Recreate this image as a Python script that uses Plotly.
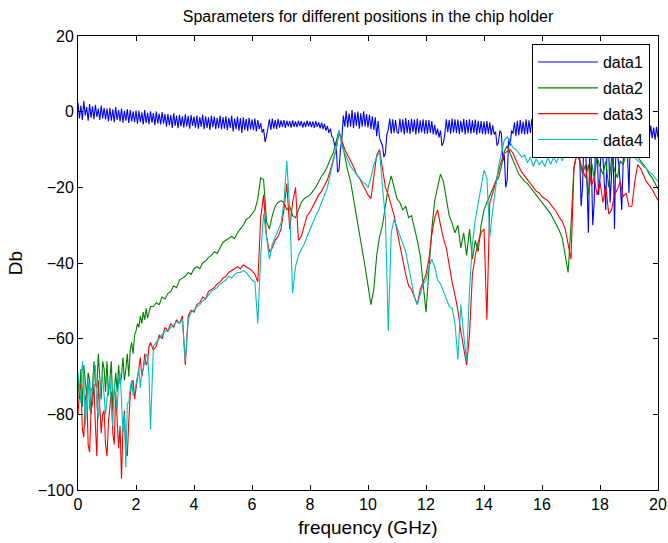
import plotly.graph_objects as go

# frequency axes (GHz)
freq_fine = [round(i * 0.05, 2) for i in range(401)]                       # data1
freq_mixed = [round(i * 0.05, 2) for i in range(51)] + [round(2.5 + i * 0.1, 1) for i in range(1, 176)]  # data2-4

# data1 read at 0.05 GHz steps
data1 = [2.4, -1.8, 1.6, -2.2, 2.8, -1.0, 1.2, -2.4, 2.0, -1.6, 1.4, -2.0, 1.8, -1.4, 0.8, -2.2, 1.6, -1.8, 1.0, -2.0, 0.8,
         -2.6, 1.0, -2.4, 0.6, -2.8, 1.2, -2.2, 0.4, -2.6, 0.8, -2.9, 0.2, -2.4, 0.7, -3.0, 0.4, -2.6, 0.1, -2.8, 0.3,
         -3.2, 0.2, -2.8, -0.2, -3.4, 0.4, -3.0, -0.3, -3.3, 0.1, -2.9, -0.4, -3.6, 0.0, -3.1, -0.5, -3.4, -0.1, -3.2, -0.6,
         -4.0, -0.6, -3.6, -0.9, -4.3, -0.4, -3.8, -1.0, -4.4, -0.8, -3.9, -1.2, -4.2, -0.7, -4.0, -1.1, -4.5, -0.9, -3.8, -1.3,
         -4.2, -1.0, -4.5, -1.4, -4.0, -0.8, -4.6, -1.2, -4.3, -1.5, -4.8, -1.1, -4.1, -1.3, -4.6, -1.6, -4.4, -1.0, -4.7, -1.4,
         -4.5, -1.2, -4.9, -1.6, -4.3, -1.0, -5.2, -1.8, -4.6, -1.3, -5.0, -1.7, -5.6, -1.5, -4.8, -1.9, -5.1, -1.6, -4.7, -2.0,
         -4.9, -1.8, -5.2, -2.2, -4.6, -3.0, -5.5, -4.6, -8.0, -6.5, -4.4, -2.0, -4.8, -1.8, -4.5, -2.2, -4.6, -1.9, -4.2, -2.3,
         -4.0, -2.2, -4.3, -2.4, -3.9, -2.5, -4.2, -2.3, -4.0, -2.6, -4.1, -2.4, -3.8, -2.5, -4.2, -2.7, -4.0, -2.4, -3.9, -2.6,
         -4.1, -2.6, -4.3, -2.5, -4.0, -2.8, -4.4, -2.9, -4.6, -3.2, -5.0, -3.8, -5.6, -4.5, -6.5, -7.0, -9.0, -8.0, -16.0, -15.5,
         -10.0, -7.0, -1.0, -4.0, 0.2, -4.2, -0.5, -4.0, 0.4, -4.4, -0.2, -3.8, 0.0, -4.5, -0.4, -4.0, 0.1, -3.9, -0.6, -4.2,
         -0.8, -4.6, -1.2, -4.8, -1.5, -6.5, -2.5, -7.0, -8.0, -9.0, -12.0, -11.0, -6.0, -4.8, -1.8, -5.8, -2.0, -5.6, -2.2, -5.4,
         -5.8, -1.8, -5.5, -2.0, -6.0, -1.7, -5.6, -2.2, -5.9, -1.9, -5.4, -2.1, -6.0, -1.8, -5.7, -2.3, -5.5, -2.0, -5.8, -2.2,
         -5.9, -2.2, -5.6, -2.5, -6.0, -3.5, -6.2, -4.5, -6.8, -5.0, -9.0, -8.2, -6.0, -2.0, -5.4, -2.2, -5.8, -1.8, -5.5, -2.0,
         -5.6, -2.1, -5.9, -2.4, -5.5, -1.9, -6.0, -2.2, -5.7, -2.0, -5.8, -2.3, -5.6, -2.1, -6.1, -2.4, -5.7, -2.5, -5.9, -2.6,
         -6.0, -2.5, -5.8, -2.8, -6.2, -3.6, -6.0, -5.3, -9.0, -8.0, -5.0, -5.8, -13.0, -11.5, -20.0, -18.0, -7.0, -9.0, -5.0, -5.8,
         -2.8, -6.5, -2.4, -6.2, -2.2, -5.8, -2.6, -6.0, -2.0, -5.9, -2.3, -5.6, -1.9, -5.8, -2.1, -5.5, -1.8, -5.7, -2.2, -5.4,
         -2.0, -5.8, -2.3, -5.6, -1.9, -5.9, -2.2, -5.5, -2.1, -6.0, -2.4, -5.7, -2.0, -5.8, -2.5, -6.1, -2.6, -6.5, -3.0, -6.2,
         -4.2, -4.8, -8.5, -7.0, -6.0, -11.5, -25.0, -19.5, -6.0, -10.0, -18.0, -32.0, -8.0, -13.0, -30.0, -24.0, -6.0, -9.0, -22.0, -17.5,
         -7.0, -12.0, -20.0, -26.0, -6.0, -10.0, -24.0, -15.5, -9.0, -31.0, -8.0, -11.0, -14.0, -19.5, -26.0, -13.0, -7.0, -9.0, -12.0, -21.5,
         -3.8, -8.0, -4.0, -7.8, -4.2, -9.0, -3.6, -7.5, -3.8, -8.2, -3.9, -7.6, -4.0, -7.2, -3.7, -7.0, -4.2, -7.4, -4.0, -6.8]

# data2..data4: 0.05 GHz steps up to 2.5 GHz, then 0.1 GHz steps
data2 = [-70, -76, -68, -78, -67, -72, -75, -69, -71, -80, -74, -66, -72, -73, -64, -70, -76, -66, -68, -74, -66,
         -75, -70, -66, -79, -73, -69, -74, -67, -72, -70, -65, -71, -68, -64, -70, -63, -61, -64, -59, -58,
         -56, -57, -54, -56, -53, -55, -52, -54.5, -53, -51.5,
         -51.5, -50.5, -51, -49, -49.5,
         -48, -47.5, -46, -46.5, -44.5, -44, -43.5, -42.5, -43, -41.5,
         -41, -41.5, -40, -39.5, -38.5, -38, -37, -37.5, -36, -34.5,
         -34, -33.5, -33, -33.5, -32, -31, -30, -28.5, -28, -27,
         -26, -23, -17.5, -18, -29, -31, -27.5, -25, -24, -23.5,
         -24, -26, -25, -27.5, -28, -26, -24, -23, -22.5, -22,
         -21, -20, -18.5, -17, -16, -14.5, -12.5, -11, -8, -5,
         -8, -12, -15.5, -18.5, -23, -27, -31, -36, -41, -46,
         -51, -47, -38, -33, -30, -25, -20, -17, -20, -23,
         -24, -26, -25, -28, -27.5, -30.5, -34, -38, -45, -53,
         -42, -31, -23.5, -20, -16.5, -18.5, -23, -27.5, -29.5, -32,
         -30, -36, -32, -38, -31, -39, -34, -37, -30, -26,
         -24, -22, -20, -18.5, -17.5, -14.5, -10.5, -9, -11, -13,
         -15, -16.5, -17.5, -18.5, -19, -20, -21, -22, -23, -24,
         -25, -26, -27, -28.5, -30, -31.5, -33.5, -38, -42.5, -30,
         -15, -11, -13, -16.5, -14, -22, -13, -17.5, -12, -14.5,
         -16.5, -13, -20, -12, -15.5, -17.5, -13, -14, -11, -12,
         -11, -11.5, -12, -13, -14, -15, -16.5, -17.5, -19, -20.5]

data3 = [-80, -74, -72, -84, -86, -76, -74, -88, -90, -79, -77, -72, -83, -91, -71, -78, -85, -80, -79, -88, -91,
         -82, -77, -74, -85, -88, -74, -80, -89, -83, -97, -84, -79, -90, -91, -82, -75, -72, -71, -76, -73,
         -70, -67, -65, -70, -68, -64, -67, -66, -62, -61,
         -63, -62, -59, -60, -57,
         -58, -56, -57, -55, -56, -54, -67, -54, -52.5, -53,
         -51, -50.5, -49, -49.5, -47.5, -47, -46.5, -45.5, -45, -44,
         -43.5, -42.5, -42, -41.5, -41, -41.5, -40.5, -41, -41.5, -42,
         -43, -45, -28, -22, -33, -37, -36, -34, -33, -31,
         -26, -19, -31, -24, -20, -34, -33, -30, -27.5, -26.5,
         -25, -23.5, -22, -21, -19.5, -18, -15.5, -13, -10, -5.5,
         -8, -10, -11.5, -13, -14.5, -16.5, -17.5, -19, -20.5, -22,
         -23, -17, -11.5, -10, -15, -20, -22, -25, -27.5, -31.5,
         -35.5, -39, -43, -46, -47, -49, -51, -47, -45, -43,
         -39, -32.5, -28, -26, -30, -33.5, -36, -41, -45, -48.5,
         -52.5, -58, -62, -67, -59, -43, -38, -34.5, -32, -31,
         -55, -24, -21.5, -18.5, -16, -13, -11, -10.5, -10, -11,
         -13, -14.5, -16, -17, -18, -19, -20, -21, -21.5, -22.5,
         -23, -23.5, -24.5, -25.5, -26.5, -28, -29, -31, -35, -39,
         -15, -11, -13, -15.5, -17.5, -14, -19.5, -17.5, -22, -18.5,
         -24, -19.5, -27, -26, -22, -20.5, -18.5, -22.5, -21.5, -25,
         -25, -18.5, -14, -15, -17, -18.5, -19.5, -20.5, -22, -23.5]

data4 = [-69, -74, -77, -66, -70, -83, -75, -71, -79, -73, -74, -68, -67, -78, -81, -75, -72, -70, -76, -80, -76,
         -73, -70, -78, -83, -72, -75, -79, -71, -69, -76, -85, -80, -94, -77, -77, -73, -71, -75, -74, -72,
         -70, -68, -73, -69, -68, -66, -64, -65, -70, -84,
         -62, -61, -60, -59, -58,
         -58, -57, -56.5, -55.5, -56, -55, -66, -55, -53, -52.5,
         -51.5, -51, -50, -49.5, -48.5, -47.5, -47, -46.5, -45.5, -45,
         -44.5, -43.5, -44, -43, -42.5, -42.5, -42, -42.5, -43.5, -44.5,
         -45, -56, -38, -27, -33, -39, -35, -33, -31.5, -29.5,
         -24, -13, -26, -48, -41, -38, -36.5, -35, -33, -31,
         -29.5, -27.5, -26, -24, -22, -20, -16.5, -13, -10, -5,
         -9, -11, -13, -14.5, -15.5, -16.5, -17.5, -18.5, -19, -20,
         -17.5, -14, -12, -10.5, -20, -28, -58, -32, -28.5, -30.5,
         -32.5, -35, -37, -41, -45, -49, -51, -48.5, -45.5, -44.5,
         -41, -39, -41, -44.5, -45.5, -47.5, -49.5, -51.5, -52, -56,
         -65.5, -51, -59, -66, -47, -35, -28.5, -24, -20, -15.5,
         -17.5, -33, -26, -20, -14.5, -11, -7.5, -6.7, -8, -9.5,
         -10, -11, -12, -11.5, -13.5, -12, -14.5, -12.5, -14, -13,
         -14.5, -12, -14, -12, -13.5, -11.5, -13, -11, -12, -11,
         -10.5, -11, -10, -10.5, -9.5, -11, -10, -9.5, -10.5, -10,
         -9.5, -10, -9, -10.5, -9.5, -10, -9, -10, -10.5, -11,
         -11.5, -12, -13, -13.5, -14.5, -15, -16, -16.5, -17.5, -18.5]

series_names = ["data1", "data2", "data3", "data4"]
series_colors = ["#0000ff", "#008000", "#ff0000", "#00bfbf"]
x_ticks = list(range(0, 21, 2))
y_ticks = list(range(-100, 21, 20))

FONT = "Liberation Sans, Arial, sans-serif"

fig = go.Figure()
series_x = [freq_fine, freq_mixed, freq_mixed, freq_mixed]
for name, xs, ys, col in zip(series_names, series_x, [data1, data2, data3, data4], series_colors):
    fig.add_trace(go.Scatter(x=xs, y=ys, mode="lines", name=name,
                             legendgroup=name,
                             line=dict(color=col, width=1.1)))

axis_common = dict(showline=True, linecolor="black", linewidth=1, mirror="ticks",
                   ticks="inside", ticklen=5, tickcolor="black", showgrid=False,
                   zeroline=False, tickfont=dict(family=FONT, size=16, color="black"))

fig.update_layout(
    width=668, height=543,
    margin=dict(l=78, r=10, t=36, b=53, autoexpand=False),
    paper_bgcolor="white", plot_bgcolor="white",
    font=dict(family=FONT, size=16, color="black"),
    title=dict(text="Sparameters for different positions in the chip holder",
               x=0.5, xanchor="center", xref="paper", y=1 - 16 / 543, yref="container",
               yanchor="middle", font=dict(family=FONT, size=16, color="black")),
    xaxis=dict(range=[0, 20], tickvals=x_ticks, title=dict(text="frequency (GHz)", standoff=8),
               **axis_common),
    yaxis=dict(range=[-100, 20], tickvals=y_ticks, title=dict(text="Db", standoff=10),
               **axis_common),
    legend=dict(x=0.986, y=0.982, xanchor="right", yanchor="top",
                bgcolor="white", bordercolor="black", borderwidth=1,
                font=dict(family=FONT, size=16, color="black"),
                itemwidth=60, traceorder="grouped", tracegroupgap=2),
    showlegend=True,
)

fig.write_html("out.html")
